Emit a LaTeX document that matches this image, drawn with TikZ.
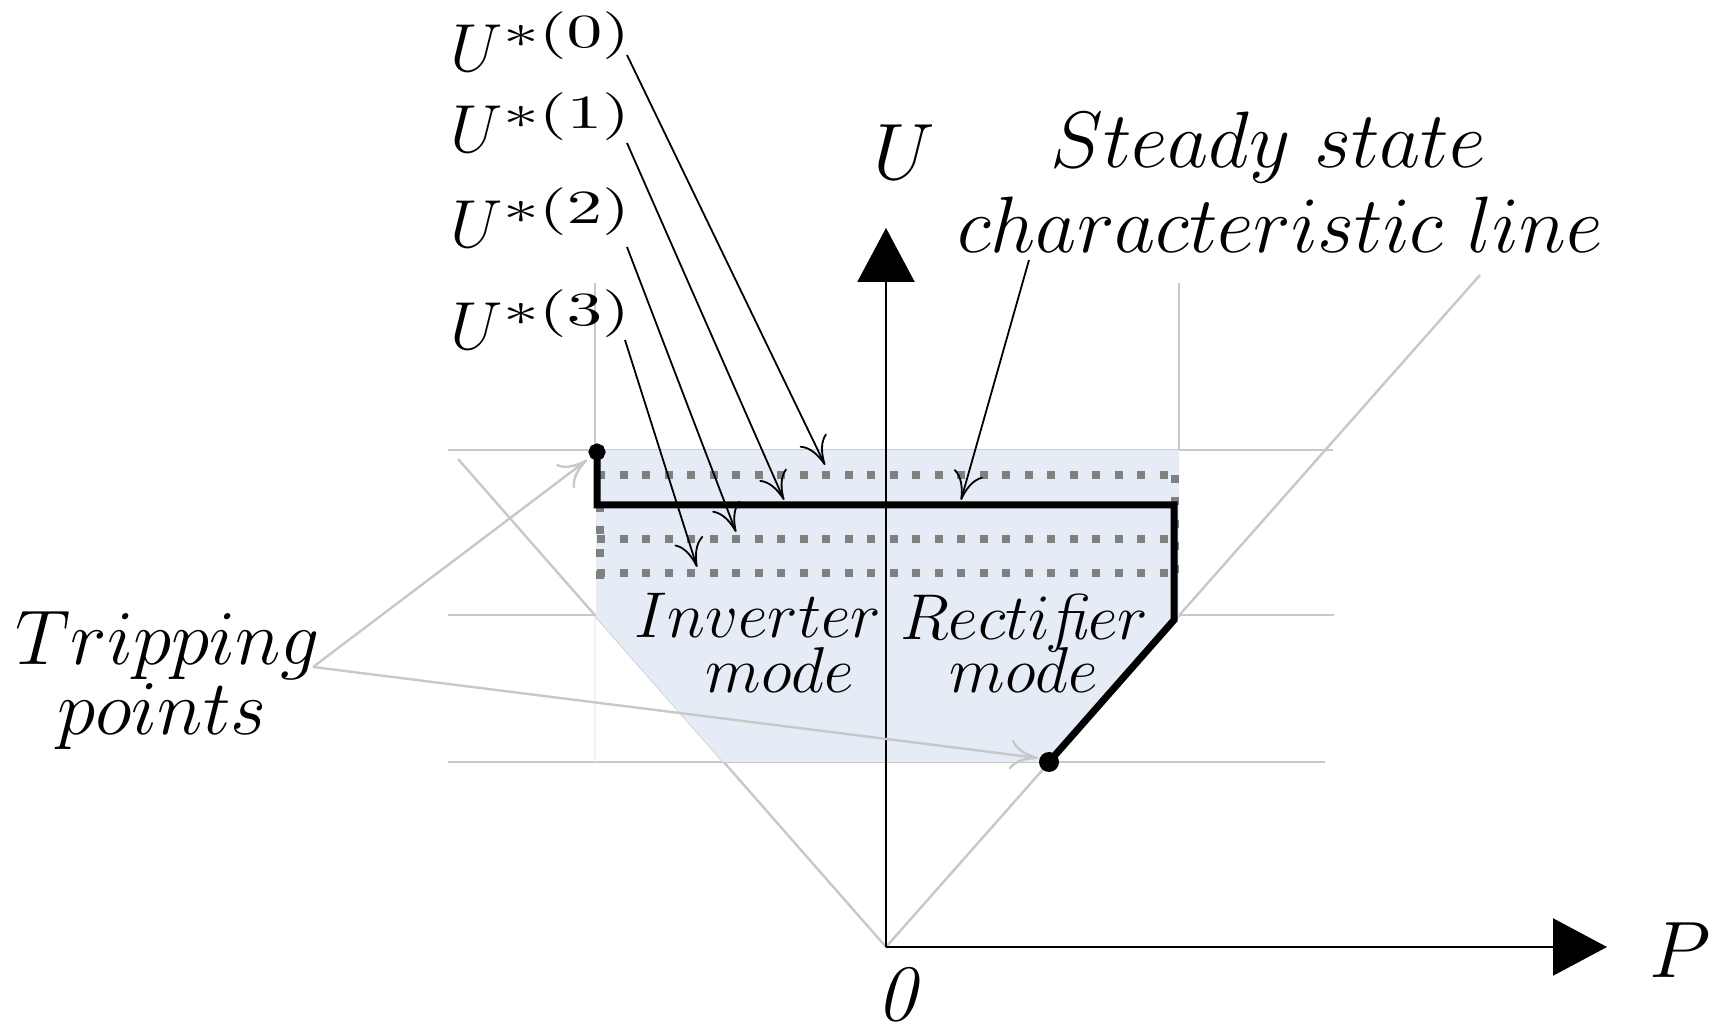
\RequirePackage{fix-cm}
\documentclass[tikz,border=0pt]{standalone}
\usepackage{graphicx}
\usetikzlibrary{arrows.meta}
\definecolor{gridgray}{RGB}{200,200,200}
\definecolor{regionblue}{RGB}{229,236,246}
\definecolor{dotgray}{RGB}{128,128,128}
\definecolor{faintline}{RGB}{238,242,250}
\newcommand{\ustarlabel}[1]{$U^{\scalebox{1.5}[1]{$\scriptstyle\ast(#1)$}}$}
\tikzset{
  gridline/.style={draw=gridgray, line width=0.6pt},
  axisline/.style={draw=black, line width=0.55pt, -{Triangle[length=13.5pt,width=14.25pt]}},
  dotline/.style={draw=dotgray, line width=2pt, dash pattern=on 2pt off 3.625pt},
  steadyline/.style={draw=black, line width=1.75pt, line join=miter},
  pointer/.style={draw=black, line width=0.45pt, -{To[length=7pt,width=7.5pt]}},
  graypointer/.style={draw=gridgray, line width=0.6pt, -{To[length=7pt,width=7.5pt]}},
  bigtext/.style={inner sep=0pt, font=\fontsize{20}{24}\selectfont},
  triptext/.style={inner sep=0pt, font=\fontsize{19.4}{23}\selectfont},
  midtext/.style={inner sep=0pt, font=\fontsize{17}{20}\selectfont},
  modetext/.style={inner sep=0pt, font=\fontsize{16.2}{19}\selectfont},
}
\begin{document}
\begin{tikzpicture}[x=0.25pt, y=-0.25pt]
\useasboundingbox (0,0) rectangle (1713,1025);
% key points
\coordinate (O) at (886,947);
\coordinate (Ptip) at (1607,947);
\coordinate (Utip) at (886,228);
% grey construction lines
\draw[gridline] (448,450) -- (1333,450);
\draw[gridline] (448,615) -- (1334,615);
\draw[gridline] (448,762) -- (1325,762);
\draw[gridline] (595,283) -- (595,450);
\draw[gridline] (1179,283) -- (1179,450);
\draw[gridline] (458,459) -- (O) -- (1480,275);
% operating region
\fill[regionblue] (596,450) -- (1179,450) -- (1179,615) -- (1049,762) -- (723,762) -- (596,617) -- cycle;
\draw[draw=faintline, line width=0.5pt] (595,618) -- (595,762);
% axes
\draw[axisline] (O) -- (Ptip);
\draw[axisline] (O) -- (Utip);
% dotted characteristics
\draw[dotline] (597,475) -- (1178,475);
\draw[dotline] (597,539) -- (1178,539);
\draw[dotline] (597,573) -- (1178,573);
\draw[dotline] (600,504) -- (600,580);
\draw[dotline] (1175,475) -- (1175,580);
% steady state characteristic
\draw[steadyline] (597,452) -- (597,505) -- (1174,505) -- (1174,620) -- (1049,762);
\fill[black] (1049,762) circle[radius=2.5pt];
\filldraw[fill=white, draw=black, line width=2pt] (597,452) circle[radius=1.1pt];
% labels
\node[midtext, anchor=base west] (u0) at (450,72) {\ustarlabel{0}};
\node[midtext, anchor=base west] (u1) at (450,153) {\ustarlabel{1}};
\node[midtext, anchor=base west] (u2) at (450,248) {\ustarlabel{2}};
\node[midtext, anchor=base west] (u3) at (450,350) {\ustarlabel{3}};
\node[bigtext] (ulab) at (904,152) {$U$};
\node[bigtext] (plab) at (1680,950) {$P$};
\node[bigtext] (zero) at (898,995) {\textit{0}};
\node[bigtext, anchor=base] (st1) at (1268,168) {$Steady\ state$};
\node[bigtext, anchor=base] (st2) at (1280,253) {$characteristic\ line$};
\node[triptext, anchor=base] (tr1) at (168,665) {$Tripping$};
\node[triptext, anchor=base] (tr2) at (162,735) {$points$};
\node[modetext, anchor=base] (inv1) at (758,638) {$Inverter$};
\node[modetext, anchor=base] (inv2) at (780,693) {$mode$};
\node[modetext, anchor=base] (rec1) at (1024,640) {$Recti$\textit{fi}$er$};
\node[modetext, anchor=base] (rec2) at (1024,693) {$mode$};
% pointer arrows
\coordinate (s0) at (627,55);  \coordinate (t0) at (825,465);
\coordinate (s1) at (627,143); \coordinate (t1) at (784,500);
\coordinate (s2) at (627,247); \coordinate (t2) at (736,532);
\coordinate (s3) at (625,340); \coordinate (t3) at (697,567);
\coordinate (ss) at (1029,260); \coordinate (ts) at (961,500);
\draw[pointer] (s0) -- (t0);
\draw[pointer] (s1) -- (t1);
\draw[pointer] (s2) -- (t2);
\draw[pointer] (s3) -- (t3);
\draw[pointer] (ss) -- (ts);
\coordinate (tv) at (313,667);
\coordinate (tp1) at (587,460);
\coordinate (tp2) at (1038,758);
\draw[graypointer] (tv) -- (tp1);
\draw[graypointer] (tv) -- (tp2);
\end{tikzpicture}
\end{document}
